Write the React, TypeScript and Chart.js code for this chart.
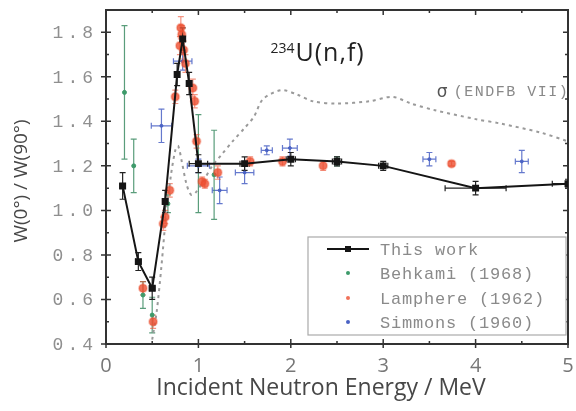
import React, { useEffect, useRef } from "react";
import { Chart, registerables } from "chart.js";

Chart.register(...registerables);

// ---- data ----
const thisWorkX = [0.18, 0.35, 0.5, 0.64, 0.77, 0.83, 0.9, 1.0, 1.5, 2.0, 2.5, 3.0, 4.0, 5.0];
const thisWorkY = [1.11, 0.77, 0.65, 1.04, 1.61, 1.77, 1.57, 1.21, 1.21, 1.23, 1.22, 1.2, 1.1, 1.12];
const thisWorkYErr = [0.06, 0.04, 0.05, 0.05, 0.05, 0.05, 0.05, 0.04, 0.03, 0.03, 0.02, 0.02, 0.03, 0.02];
const thisWorkXErr = [0.03, 0.03, 0.03, 0.02, 0.02, 0.02, 0.02, 0.1, 0.05, 0.05, 0.05, 0.05, 0.33, 0.17];

const behkamiX = [0.2, 0.3, 0.4, 0.5, 0.67, 1.0, 1.17, 2.5];
const behkamiY = [1.53, 1.2, 0.62, 0.53, 1.03, 1.21, 1.16, 1.22];
const behkamiYErr = [0.3, 0.12, 0.06, 0.08, 0.04, 0.22, 0.2, 0.02];

const lamphereX = [0.4, 0.51, 0.62, 0.64, 0.69, 0.75, 0.8, 0.81, 0.82, 0.84, 0.86, 0.94, 0.96, 0.98, 1.04, 1.07, 1.21, 1.56, 1.91, 2.35, 3.74];
const lamphereY = [0.65, 0.5, 0.94, 0.97, 1.09, 1.51, 1.74, 1.82, 1.79, 1.72, 1.66, 1.55, 1.49, 1.31, 1.13, 1.12, 1.17, 1.22, 1.22, 1.2, 1.21];
const lamphereYErr = [0.03, 0.03, 0.03, 0.03, 0.03, 0.03, 0.04, 0.05, 0.04, 0.04, 0.04, 0.04, 0.03, 0.03, 0.02, 0.02, 0.03, 0.02, 0.02, 0.02, 0.01];

const simmonsX = [0.6, 0.83, 1.0, 1.23, 1.5, 1.74, 1.99, 3.5, 4.5];
const simmonsY = [1.38, 1.67, 1.2, 1.09, 1.17, 1.27, 1.28, 1.23, 1.22];
const simmonsYErr = [0.075, 0.04, 0.03, 0.06, 0.05, 0.02, 0.04, 0.03, 0.05];
const simmonsXErr = [0.11, 0.1, 0.12, 0.08, 0.1, 0.06, 0.08, 0.07, 0.07];

const endfX = [0.5, 0.55, 0.6, 0.65, 0.7, 0.75, 0.78, 0.82, 0.87, 0.92, 0.97, 1.05, 1.15, 1.25, 1.37, 1.5, 1.6, 1.7, 1.9, 2.07, 2.24, 2.5, 2.85, 3.1, 3.3, 3.56, 4.0, 4.27, 4.7, 5.0];
const endfY = [0.42, 0.55, 0.75, 0.98, 1.15, 1.27, 1.29, 1.22, 1.12, 1.07, 1.08, 1.13, 1.2, 1.25, 1.31, 1.37, 1.42, 1.5, 1.54, 1.52, 1.49, 1.48, 1.49, 1.51, 1.48, 1.45, 1.41, 1.39, 1.35, 1.31];

const yTickValues = [0.4, 0.6, 0.8, 1.0, 1.2, 1.4, 1.6, 1.8];
const yTickLabels = ["0.4", "0.6", "0.8", "1.0", "1.2", "1.4", "1.6", "1.8"];

const seriesLabels = ["This work", "Behkami (1968)", "Lamphere (1962)", "Simmons (1960)"];
const xTitle = "Incident Neutron Energy / MeV";
const yTitle = "W(0°) / W(90°)";
const reactionLabelSup = "234";
const reactionLabelMain = "U(n,f)";
const sigmaSymbol = "σ";
const sigmaLabel = "(ENDFB VII)";

const COLORS = {
  thisWork: "#151515",
  behkami: "#3d9a6a",
  lamphere: "rgba(236,78,48,0.8)",
  simmons: "#4a62c4",
  endf: "#9a9a9a",
};

const pts = (xs: number[], ys: number[]) => xs.map((x, i) => ({ x, y: ys[i] }));

const errorSets = [
  { xs: simmonsX, ys: simmonsY, xe: simmonsXErr, ye: simmonsYErr, color: "rgba(74,98,196,0.85)" },
  { xs: behkamiX, ys: behkamiY, xe: null, ye: behkamiYErr, color: "rgba(61,140,100,0.85)" },
  { xs: lamphereX, ys: lamphereY, xe: null, ye: lamphereYErr, color: "rgba(236,78,48,0.6)" },
  { xs: thisWorkX, ys: thisWorkY, xe: thisWorkXErr, ye: thisWorkYErr, color: "#222" },
];

const errorBarPlugin = {
  id: "errbars",
  beforeDatasetsDraw(chart: any) {
    const { ctx, chartArea } = chart;
    const xs = chart.scales.x;
    const ys = chart.scales.y;
    ctx.save();
    ctx.beginPath();
    ctx.rect(chartArea.left, chartArea.top, chartArea.right - chartArea.left, chartArea.bottom - chartArea.top);
    ctx.clip();
    for (const s of errorSets) {
      ctx.strokeStyle = s.color;
      ctx.lineWidth = 1.2;
      for (let i = 0; i < s.xs.length; i++) {
        const px = xs.getPixelForValue(s.xs[i]);
        const py = ys.getPixelForValue(s.ys[i]);
        if (s.ye) {
          const t = ys.getPixelForValue(s.ys[i] + s.ye[i]);
          const b = ys.getPixelForValue(s.ys[i] - s.ye[i]);
          ctx.beginPath();
          ctx.moveTo(px, t); ctx.lineTo(px, b);
          ctx.moveTo(px - 3, t); ctx.lineTo(px + 3, t);
          ctx.moveTo(px - 3, b); ctx.lineTo(px + 3, b);
          ctx.stroke();
        }
        if (s.xe) {
          const l = xs.getPixelForValue(s.xs[i] - s.xe[i]);
          const r = xs.getPixelForValue(s.xs[i] + s.xe[i]);
          ctx.beginPath();
          ctx.moveTo(l, py); ctx.lineTo(r, py);
          ctx.moveTo(l, py - 3); ctx.lineTo(l, py + 3);
          ctx.moveTo(r, py - 3); ctx.lineTo(r, py + 3);
          ctx.stroke();
        }
      }
    }
    ctx.restore();
  },
};

const decorPlugin = {
  id: "decor",
  afterDraw(chart: any) {
    const { ctx, chartArea } = chart;
    const xs = chart.scales.x;
    const ys = chart.scales.y;
    const { left, right, top, bottom } = chartArea;
    ctx.save();
    // tick marks
    ctx.strokeStyle = "#333";
    ctx.lineWidth = 1.5;
    ctx.beginPath();
    for (let v = xs.min; v <= xs.max + 1e-9; v += 0.5) {
      const px = xs.getPixelForValue(v);
      const major = Math.abs(v - Math.round(v)) < 1e-6;
      const len = major ? 5 : 3;
      ctx.moveTo(px, bottom + (major ? 4 : 0)); ctx.lineTo(px, bottom - len);
      ctx.moveTo(px, top); ctx.lineTo(px, top + len);
    }
    for (let k = 4; k <= 19; k++) {
      const v = k / 10;
      const py = ys.getPixelForValue(v);
      const major = k % 2 === 0;
      const len = major ? 5 : 3;
      ctx.moveTo(left - (major ? 5 : 0), py); ctx.lineTo(left + len, py);
      ctx.moveTo(right, py); ctx.lineTo(right - len, py);
    }
    ctx.stroke();

    // y tick labels (monospace, spaced)
    ctx.fillStyle = "#8f8f8f";
    ctx.font = "18px 'Liberation Mono'";
    (ctx as any).letterSpacing = "4px";
    ctx.textAlign = "right";
    ctx.textBaseline = "middle";
    yTickValues.forEach((v, i) => {
      ctx.fillText(yTickLabels[i], left - 9, ys.getPixelForValue(v) + 1);
    });
    (ctx as any).letterSpacing = "0px";

    // axis titles
    ctx.fillStyle = "#474747";
    ctx.textAlign = "center";
    ctx.textBaseline = "middle";
    ctx.font = "23px 'Open Sans'";
    ctx.fillText(xTitle, 321, 388);
    ctx.save();
    ctx.translate(22, 181);
    ctx.rotate(-Math.PI / 2);
    ctx.font = "19px 'Open Sans'";
    ctx.fillText(yTitle, 0, 0);
    ctx.restore();

    // reaction label
    ctx.fillStyle = "#222";
    ctx.textAlign = "left";
    ctx.textBaseline = "alphabetic";
    ctx.font = "14px 'Open Sans'";
    const rx = xs.getPixelForValue(1.78);
    const ry = ys.getPixelForValue(1.67);
    ctx.fillText(reactionLabelSup, rx, ry - 8);
    const sw = ctx.measureText(reactionLabelSup).width;
    ctx.font = "25px 'Open Sans'";
    (ctx as any).letterSpacing = "1px";
    ctx.fillText(reactionLabelMain, rx + sw + 1, ry);
    (ctx as any).letterSpacing = "0px";

    // sigma label
    ctx.fillStyle = "#555";
    ctx.font = "17px 'DejaVu Sans'";
    const sx = xs.getPixelForValue(3.58);
    const sy = ys.getPixelForValue(1.53);
    ctx.textBaseline = "middle";
    ctx.fillText(sigmaSymbol, sx, sy);
    ctx.fillStyle = "#888";
    ctx.font = "15px 'Liberation Mono'";
    (ctx as any).letterSpacing = "1.5px";
    ctx.fillText(sigmaLabel, sx + 17, sy);
    (ctx as any).letterSpacing = "0px";

    // legend
    const lx = 308, ly = 237, lw = 258, lh = 98;
    ctx.fillStyle = "#fff";
    ctx.fillRect(lx, ly, lw, lh);
    ctx.strokeStyle = "#aaa";
    ctx.lineWidth = 1.2;
    ctx.strokeRect(lx, ly, lw, lh);
    const rowY = [249, 273, 298, 322];
    const markX = 348;
    ctx.strokeStyle = COLORS.thisWork;
    ctx.lineWidth = 2;
    ctx.beginPath();
    ctx.moveTo(327, rowY[0]); ctx.lineTo(369, rowY[0]);
    ctx.stroke();
    ctx.fillStyle = COLORS.thisWork;
    ctx.fillRect(markX - 3, rowY[0] - 3, 6, 6);
    const dotColors = [COLORS.behkami, COLORS.lamphere, COLORS.simmons];
    dotColors.forEach((c, i) => {
      ctx.fillStyle = c;
      ctx.beginPath();
      ctx.arc(markX, rowY[i + 1], 2, 0, Math.PI * 2);
      ctx.fill();
    });
    ctx.fillStyle = "#8a8a8a";
    ctx.font = "17px 'Liberation Mono'";
    (ctx as any).letterSpacing = "0.8px";
    ctx.textAlign = "left";
    ctx.textBaseline = "middle";
    seriesLabels.forEach((t, i) => ctx.fillText(t, 380, rowY[i] + 1));
    (ctx as any).letterSpacing = "0px";
    ctx.restore();
  },
};

export default function App() {
  const ref = useRef<HTMLCanvasElement | null>(null);
  useEffect(() => {
    if (!ref.current) return;
    const chart = new Chart(ref.current, {
      type: "scatter",
      data: {
        datasets: [
          {
            label: seriesLabels[0],
            data: pts(thisWorkX, thisWorkY),
            showLine: true,
            borderColor: COLORS.thisWork,
            backgroundColor: COLORS.thisWork,
            borderWidth: 2,
            pointStyle: "rect",
            pointRadius: 3.5,
            order: 0,
          },
          {
            label: seriesLabels[2],
            data: pts(lamphereX, lamphereY),
            backgroundColor: COLORS.lamphere,
            borderColor: "rgba(236,78,48,0.3)",
            borderWidth: 2,
            pointRadius: 4,
            order: 1,
          },
          {
            label: seriesLabels[3],
            data: pts(simmonsX, simmonsY),
            backgroundColor: COLORS.simmons,
            borderColor: COLORS.simmons,
            pointRadius: 1.5,
            order: 2,
          },
          {
            label: seriesLabels[1],
            data: pts(behkamiX, behkamiY),
            backgroundColor: COLORS.behkami,
            borderColor: COLORS.behkami,
            pointRadius: 2,
            order: 3,
          },
          {
            label: "ENDF",
            data: pts(endfX, endfY),
            showLine: true,
            borderColor: COLORS.endf,
            borderWidth: 2,
            borderDash: [3, 4],
            pointRadius: 0,
            tension: 0.3,
            order: 4,
          },
        ],
      },
      options: {
        animation: false,
        responsive: false,
        maintainAspectRatio: false,
        layout: { padding: 0 },
        plugins: { legend: { display: false }, tooltip: { enabled: false } },
        scales: {
          x: {
            type: "linear",
            position: "bottom",
            min: 0,
            max: 5,
            ticks: { stepSize: 1, color: "#777", font: { family: "'Open Sans'", size: 20 }, padding: 2 },
            grid: { display: false },
            border: { display: true, color: "#333", width: 2 },
            afterFit: (s: any) => { s.height = 67; },
          },
          x2: {
            type: "linear",
            position: "top",
            min: 0,
            max: 5,
            ticks: { display: false },
            grid: { display: false },
            border: { display: true, color: "#333", width: 2 },
            afterFit: (s: any) => { s.height = 10; },
          },
          y: {
            type: "linear",
            position: "left",
            min: 0.4,
            max: 1.9,
            ticks: { display: false },
            grid: { display: false },
            border: { display: true, color: "#333", width: 2 },
            afterFit: (s: any) => { s.width = 106; },
          },
          y2: {
            type: "linear",
            position: "right",
            min: 0.4,
            max: 1.9,
            ticks: { display: false },
            grid: { display: false },
            border: { display: true, color: "#333", width: 2 },
            afterFit: (s: any) => { s.width = 8; },
          },
        },
      },
      plugins: [errorBarPlugin, decorPlugin],
    } as any);
    return () => chart.destroy();
  }, []);
  return (
    <div style={{ position: "absolute", left: 0, top: 0, width: 576, height: 411, background: "#fff" }}>
      <canvas ref={ref} width={576} height={411} style={{ width: 576, height: 411 }} />
    </div>
  );
}
